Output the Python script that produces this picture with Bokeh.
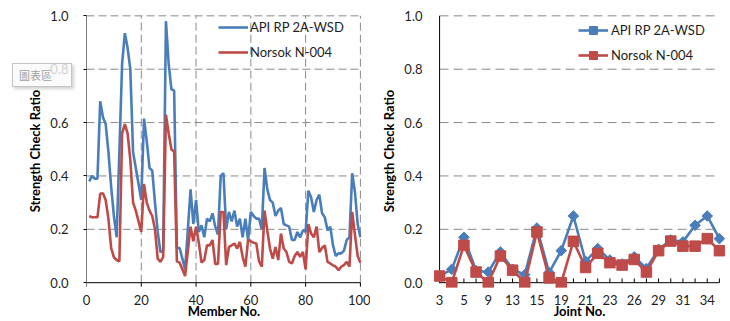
from bokeh.plotting import figure
from bokeh.layouts import row
from bokeh.models import Range1d, FixedTicker, Legend, LegendItem, Div, PrintfTickFormatter
from bokeh.embed import file_html
from bokeh.resources import INLINE

# ---------------- data ----------------
members = list(range(1, 101))
member_api = [0.38, 0.40, 0.39, 0.39, 0.68, 0.62, 0.595, 0.49, 0.36, 0.25,
              0.17, 0.49, 0.82, 0.935, 0.88, 0.80, 0.49, 0.43, 0.37, 0.31,
              0.615, 0.53, 0.43, 0.42, 0.30, 0.19, 0.115, 0.12, 0.98, 0.82,
              0.725, 0.72, 0.13, 0.13, 0.09, 0.05, 0.20, 0.35, 0.22, 0.31,
              0.19, 0.215, 0.17, 0.24, 0.23, 0.26, 0.21, 0.18, 0.40, 0.41,
              0.20, 0.265, 0.23, 0.27, 0.21, 0.24, 0.17, 0.24, 0.16, 0.265,
              0.25, 0.24, 0.24, 0.20, 0.43, 0.35, 0.31, 0.30, 0.25, 0.27,
              0.28, 0.22, 0.215, 0.21, 0.16, 0.16, 0.19, 0.17, 0.196, 0.19,
              0.345, 0.32, 0.265, 0.31, 0.33, 0.26, 0.245, 0.196, 0.21, 0.14,
              0.10, 0.11, 0.11, 0.12, 0.16, 0.17, 0.41, 0.34, 0.22, 0.17]
member_norsok = [0.25, 0.245, 0.245, 0.245, 0.333, 0.335, 0.31, 0.24, 0.13, 0.095,
                 0.085, 0.08, 0.56, 0.594, 0.56, 0.46, 0.30, 0.27, 0.23, 0.19,
                 0.37, 0.30, 0.27, 0.25, 0.20, 0.09, 0.078, 0.097, 0.63, 0.56,
                 0.50, 0.49, 0.08, 0.075, 0.05, 0.025, 0.12, 0.21, 0.155, 0.21,
                 0.15, 0.075, 0.085, 0.14, 0.14, 0.16, 0.07, 0.07, 0.265, 0.265,
                 0.066, 0.134, 0.14, 0.147, 0.128, 0.153, 0.097, 0.06, 0.16, 0.155,
                 0.15, 0.147, 0.08, 0.06, 0.27, 0.196, 0.128, 0.09, 0.134, 0.085,
                 0.184, 0.128, 0.115, 0.078, 0.072, 0.10, 0.115, 0.097, 0.115, 0.05,
                 0.22, 0.184, 0.17, 0.21, 0.115, 0.13, 0.14, 0.078, 0.072, 0.065,
                 0.06, 0.047, 0.06, 0.066, 0.078, 0.06, 0.265, 0.18, 0.10, 0.075]

joints = ["3", "4", "5", "7", "9", "11", "13", "14", "15", "17", "19", "20",
          "21", "22", "23", "25", "26", "28", "29", "30", "31", "33", "34", "35"]
joint_api = [0.025, 0.05, 0.17, 0.045, 0.04, 0.115, 0.05, 0.03, 0.205, 0.038, 0.12, 0.25,
             0.08, 0.128, 0.085, 0.07, 0.097, 0.053, 0.125, 0.16, 0.153, 0.215, 0.25, 0.165]
joint_norsok = [0.025, 0.0, 0.14, 0.04, 0.0, 0.10, 0.047, 0.0, 0.19, 0.018, 0.0, 0.155,
                0.057, 0.11, 0.075, 0.066, 0.087, 0.04, 0.12, 0.156, 0.137, 0.137, 0.165, 0.12]

member_ticks = [0, 20, 40, 60, 80, 100]
ratio_ticks = [0.0, 0.2, 0.4, 0.6, 0.8, 1.0]
series_names = ["API RP 2A-WSD", "Norsok N-004"]
tip_text = "圖表區"

# ---------------- style ----------------
FONT = "Lato"
BLUE = "#4A7EBB"
RED = "#BE4B48"
TEXT = "#1E1E1E"
GRID = "#8A8A8A"
Y_RANGE = (-0.018, 1.005)


def style_axes(p):
    for ax in (p.xaxis[0], p.yaxis[0]):
        ax.major_label_text_font = FONT
        ax.major_label_text_font_size = "13px"
        ax.major_label_text_color = TEXT
        ax.axis_label_text_font = FONT
        ax.axis_label_text_font_size = "13px"
        ax.axis_label_text_font_style = "bold"
        ax.axis_label_text_color = "#000000"
        ax.minor_tick_line_color = None
        ax.minor_tick_out = 0
        ax.minor_tick_in = 0
        ax.major_tick_in = 0
        ax.axis_line_color = None
    p.xaxis.major_tick_out = 0
    p.xaxis.major_tick_line_color = None
    p.xaxis.major_label_standoff = 7
    p.xaxis.axis_label_standoff = -5
    p.yaxis.ticker = FixedTicker(ticks=ratio_ticks)
    p.yaxis.formatter = PrintfTickFormatter(format="%.1f")
    p.yaxis.axis_label = "Strength Check Ratio"
    p.yaxis.axis_label_standoff = 4
    p.xgrid.visible = False
    p.ygrid.visible = False
    p.outline_line_color = None


# ---------------- left chart ----------------
p1 = figure(width=370, height=321, output_backend="svg", toolbar_location=None,
            x_range=Range1d(0, 100.4), y_range=Range1d(*Y_RANGE),
            min_border_left=86, min_border_right=9, min_border_top=14, min_border_bottom=33)

gx = member_ticks[1:]
gy = ratio_ticks[1:]
x0, x1 = member_ticks[0], member_ticks[-1]
y0, y1 = ratio_ticks[0], ratio_ticks[-1]
p1.segment(x0=gx, y0=[y0] * len(gx), x1=gx, y1=[y1] * len(gx),
           line_color=GRID, line_dash="8 4", line_width=1)
p1.segment(x0=[x0] * len(gy), y0=gy, x1=[x1] * len(gy), y1=gy,
           line_color=GRID, line_dash="8 4", line_width=1)
p1.segment(x0=[x0, x0], y0=[y0, y0], x1=[x0, x1], y1=[y1, y0], line_color="#000000", line_width=1)
p1.segment(x0=member_ticks, y0=[y0] * len(member_ticks), x1=member_ticks,
           y1=[-0.015] * len(member_ticks), line_color="#000000", line_width=1)

l1 = p1.line(members, member_api, line_color=BLUE, line_width=2.6)
l2 = p1.line(members, member_norsok, line_color=RED, line_width=2.6)

p1.xaxis.ticker = FixedTicker(ticks=member_ticks)
style_axes(p1)
p1.xaxis.axis_label = "Member No."
p1.yaxis.major_tick_out = 3
p1.yaxis.major_tick_line_color = "#000000"
p1.yaxis.major_label_standoff = 15

leg1 = Legend(items=[LegendItem(label=series_names[0], renderers=[l1]),
                     LegendItem(label=series_names[1], renderers=[l2])],
              location=(132, 225), padding=0, spacing=5, glyph_width=30, glyph_height=20,
              label_standoff=2, label_height=20, background_fill_alpha=0, border_line_alpha=0,
              label_text_font=FONT, label_text_font_size="13px", label_text_color=TEXT)
p1.add_layout(leg1)

# ---------------- right chart ----------------
idx = list(range(len(joints)))
n = len(joints)
p2 = figure(width=360, height=321, output_backend="svg", toolbar_location=None,
            x_range=Range1d(-0.5, n - 0.5), y_range=Range1d(*Y_RANGE),
            min_border_left=63, min_border_right=5, min_border_top=14, min_border_bottom=33)

p2.segment(x0=[idx[0]] * len(gy), y0=gy, x1=[idx[-1]] * len(gy), y1=gy,
           line_color=GRID, line_dash="9 5", line_width=1)
p2.segment(x0=[idx[0], idx[0]], y0=[y0, y0], x1=[idx[0], idx[-1]], y1=[y1, y0],
           line_color="#000000", line_width=1)
p2.segment(x0=idx, y0=[y0] * n, x1=idx, y1=[0.016] * n, line_color="#000000", line_width=1)

lb = p2.line(idx, joint_api, line_color=BLUE, line_width=2.6)
sb = p2.scatter(idx, joint_api, marker="square", angle=0.785398, size=7.5,
                fill_color=BLUE, line_color=BLUE)
lr = p2.line(idx, joint_norsok, line_color=RED, line_width=2.6)
sr = p2.scatter(idx, joint_norsok, marker="square", size=10.5, fill_color=RED, line_color=RED)

p2.xaxis.ticker = FixedTicker(ticks=idx)
p2.xaxis.major_label_overrides = {i: (joints[i] if i % 2 == 0 else "") for i in idx}
style_axes(p2)
p2.xaxis.axis_label = "Joint No."
p2.yaxis.major_tick_out = 0
p2.yaxis.major_tick_line_color = None
p2.yaxis.major_label_standoff = 11

leg2 = Legend(items=[LegendItem(label=series_names[0], renderers=[lb, sb]),
                     LegendItem(label=series_names[1], renderers=[lr, sr])],
              location=(145, 222), padding=0, spacing=5, glyph_width=30, glyph_height=20,
              label_standoff=3, label_height=20, background_fill_alpha=0, border_line_alpha=0,
              label_text_font=FONT, label_text_font_size="13px", label_text_color=TEXT)
p2.add_layout(leg2)

tip = Div(text=tip_text, width=60, height=24,
          styles={"position": "absolute", "left": "7px", "top": "58px",
                  "box-sizing": "border-box", "border": "1px solid #C4C4C4",
                  "background": "rgba(250,250,250,0.8)", "color": "#A0A0A0",
                  "font-family": "'Noto Sans CJK TC'", "font-size": "11px",
                  "line-height": "22px", "padding-left": "6px",
                  "box-shadow": "2px 2px 3px rgba(0,0,0,0.18)", "z-index": "10"})

layout = row(p1, p2, tip)
open("out.html", "w").write(file_html(layout, INLINE))
